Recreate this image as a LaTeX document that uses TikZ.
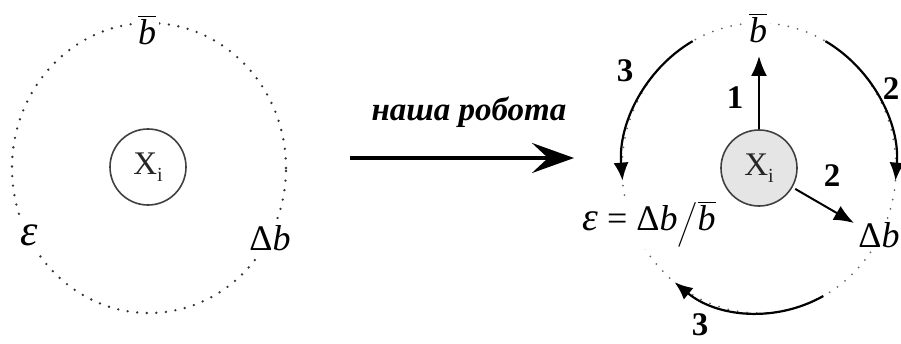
\documentclass[tikz,border=0pt]{standalone}
\usepackage{amsmath}
\usepackage{fontspec}
\setmainfont{Liberation Serif}
\usetikzlibrary{arrows.meta,calc}
\newcommand{\bbar}{$\overline{\hbox{\itshape b}}$}
\newcommand{\xilabel}{X\raisebox{-0.45ex}{\fontsize{20}{20}\selectfont i}}
\begin{document}
\begin{tikzpicture}[x=1pt,y=1pt,
  dots/.style={draw=black!80, line width=2.6pt, line cap=round, dash pattern=on 0pt off 9.6pt},
  xicirc/.style={circle, draw=black!75, line width=1.6pt, minimum size=76pt, inner sep=0pt, font=\fontsize{33}{33}\selectfont, text=black!85},
  lbl/.style={fill=white, inner sep=3pt, font=\fontsize{36}{36}\selectfont},
  num/.style={inner sep=0pt, font=\fontsize{33}{33}\selectfont\bfseries},
  arcarrow/.style={line width=2.2pt, -{Latex[length=18pt,width=15pt]}},
  ptr/.style={line width=2pt, -{Latex[length=20pt,width=16pt]}}]
\useasboundingbox (0,0) rectangle (901,343);
% ---------- left ----------
\coordinate (lc) at (149,175);
\draw[dots] (lc) ellipse[x radius=137, y radius=145];
\node[xicirc] (xl) at (148,176) {\xilabel};
\node[lbl] (bl) at (147,313) {\bbar};
\node[lbl, inner sep=6pt, font=\fontsize{44}{44}\selectfont] (el) at (29,108) {\itshape ε};
\node[lbl, inner sep=6pt] (dl) at (270,105) {Δ\itshape b};
% ---------- middle ----------
\coordinate (ma) at (350,185);
\coordinate (mb) at (574,185);
\draw[line width=3.8pt, -{Stealth[length=42pt,width=30pt,inset=16pt]}] (ma) -- (mb);
\node[inner sep=0pt, font=\fontsize{33}{33}\selectfont\bfseries\itshape] (tx) at (469,231) {наша робота};
% ---------- right ----------
\coordinate (rc) at (759,175);
\draw[dots, draw=black!60, line width=2pt] (rc) ellipse[x radius=137, y radius=145];
\draw[arcarrow] ($(rc)+(119:137 and 145)$) arc[start angle=119, end angle=185, x radius=137, y radius=145];
\draw[arcarrow] ($(rc)+(61:137 and 145)$) arc[start angle=61, end angle=-5, x radius=137, y radius=145];
\draw[arcarrow] ($(rc)+(-62:137 and 145)$) arc[start angle=-62, end angle=-128, x radius=137, y radius=145];
\node[xicirc, fill=black!10] (xr) at (759,175) {\xilabel};
\node[lbl] (br) at (758,315) {\bbar};
\node[lbl, inner sep=2pt] (er) at (649,119) {{\fontsize{40}{40}\selectfont\itshape ε}\hspace{0.25em}=\hspace{0.25em}Δ{\itshape b}$\Big/$\bbar};
\node[lbl, inner sep=2pt] (dr) at (879,108) {Δ\itshape b};
\coordinate (t1) at (759,287);
\coordinate (t2) at (854,120);
\draw[ptr] (xr.north) -- (t1);
\draw[ptr, shorten <=3pt] (xr.-30) -- (t2);
\node[num] (n1) at (735,245) {1};
\node[num] (n2) at (832,167) {2};
\node[num] (n2b) at (891,254) {2};
\node[num] (n3a) at (625,272) {3};
\node[num] (n3b) at (700,18) {3};
\end{tikzpicture}
\end{document}
